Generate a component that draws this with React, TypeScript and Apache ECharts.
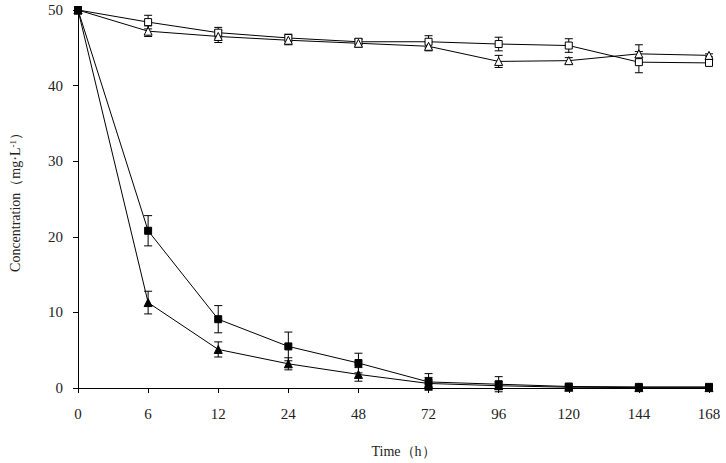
import React, { useEffect, useRef } from "react";
import * as echarts from "echarts";

const categories = ["0", "6", "12", "24", "48", "72", "96", "120", "144", "168"];
const yTicks = [0, 10, 20, 30, 40, 50];

const openSquare = [50.0, 48.4, 47.0, 46.3, 45.8, 45.8, 45.5, 45.3, 43.1, 43.0];
const openSquareErr = [0.3, 0.9, 0.7, 0.5, 0.4, 0.8, 0.9, 0.9, 1.4, 0.2];
const openTriangle = [50.0, 47.2, 46.5, 46.0, 45.6, 45.2, 43.2, 43.3, 44.2, 44.0];
const openTriangleErr = [0.3, 0.7, 0.8, 0.6, 0.5, 0.6, 0.8, 0.4, 1.2, 0.2];
const filledSquare = [50.0, 20.8, 9.1, 5.5, 3.3, 0.8, 0.5, 0.2, 0.15, 0.15];
const filledSquareErr = [0.3, 2.0, 1.8, 1.9, 1.3, 1.1, 1.0, 0.3, 0.2, 0.2];
const filledTriangle = [50.0, 11.3, 5.1, 3.2, 1.8, 0.6, 0.3, 0.1, 0.05, 0.05];
const filledTriangleErr = [0.3, 1.5, 1.0, 0.8, 0.9, 0.8, 0.5, 0.2, 0.0, 0.0];

const FONT = "'Liberation Serif', 'Times New Roman', serif";

function errorSeries(values: number[], errs: number[]) {
  return {
    type: "custom",
    silent: true,
    z: 1,
    data: values.map((v, i) => [i, v, errs[i]]),
    renderItem: (params: any, api: any) => {
      const x = api.value(0);
      const v = api.value(1);
      const e = api.value(2);
      if (e <= 0) return null;
      const top = api.coord([x, v + e]);
      const bot = api.coord([x, v - e]);
      const hw = 4;
      const style = { stroke: "#000", lineWidth: 1 };
      return {
        type: "group",
        children: [
          { type: "line", shape: { x1: top[0], y1: top[1], x2: bot[0], y2: bot[1] }, style },
          { type: "line", shape: { x1: top[0] - hw, y1: top[1], x2: top[0] + hw, y2: top[1] }, style },
          { type: "line", shape: { x1: bot[0] - hw, y1: bot[1], x2: bot[0] + hw, y2: bot[1] }, style },
        ],
      };
    },
  };
}

function lineSeries(values: number[], symbol: string, filled: boolean, size: number) {
  return {
    type: "line",
    data: values,
    symbol,
    symbolSize: size,
    showAllSymbol: true,
    z: 3,
    lineStyle: { color: "#000", width: 1 },
    itemStyle: { color: filled ? "#000" : "#fff", borderColor: "#000", borderWidth: 1 },
  };
}

export default function App() {
  const ref = useRef<HTMLDivElement>(null);
  useEffect(() => {
    if (!ref.current) return;
    const chart = echarts.init(ref.current, undefined, { renderer: "svg" });
    chart.setOption({
      animation: false,
      backgroundColor: "#fff",
      grid: { left: 76, right: 17, top: 10, bottom: 71, containLabel: false },
      xAxis: {
        type: "category",
        data: categories,
        boundaryGap: false,
        name: "Time（h）",
        nameLocation: "middle",
        nameGap: 56,
        nameTextStyle: { fontFamily: FONT, fontSize: 14, color: "#222", padding: [0, 0, 0, 20] },
        axisLine: { lineStyle: { color: "#000", width: 1 } },
        axisTick: { show: true, inside: false, length: 5, alignWithLabel: true, lineStyle: { color: "#000" } },
        axisLabel: { fontFamily: FONT, fontSize: 15, color: "#222", margin: 18 },
        splitLine: { show: false },
      },
      yAxis: {
        type: "value",
        min: 0,
        max: 50,
        interval: 10,
        name: "{a|Concentration（mg·L}{sup|-1}{a|）}",
        nameLocation: "middle",
        nameGap: 55,
        nameRotate: 90,
        nameTextStyle: {
          fontFamily: FONT,
          fontSize: 14,
          color: "#222",
          rich: {
            a: { fontFamily: FONT, fontSize: 14, color: "#222" },
            sup: { fontFamily: FONT, fontSize: 9, color: "#222", verticalAlign: "top", padding: [0, 0, 6, 0] },
          },
        },
        axisLine: { show: true, lineStyle: { color: "#000", width: 1 } },
        axisTick: { show: true, inside: false, length: 5, lineStyle: { color: "#000" } },
        axisLabel: {
          fontFamily: FONT,
          fontSize: 15,
          color: "#222",
          margin: 15,
          formatter: (v: number) => (yTicks.indexOf(v) >= 0 ? String(v) : ""),
        },
        splitLine: { show: false },
      },
      series: [
        errorSeries(openSquare, openSquareErr),
        errorSeries(openTriangle, openTriangleErr),
        errorSeries(filledSquare, filledSquareErr),
        errorSeries(filledTriangle, filledTriangleErr),
        lineSeries(openSquare, "rect", false, 7),
        lineSeries(openTriangle, "triangle", false, 8),
        lineSeries(filledSquare, "rect", true, 7),
        lineSeries(filledTriangle, "triangle", true, 8),
      ],
    });
    return () => chart.dispose();
  }, []);
  return (
    <div
      ref={ref}
      style={{ position: "fixed", left: 0, top: 0, width: 726, height: 463, background: "#fff" }}
    />
  );
}
